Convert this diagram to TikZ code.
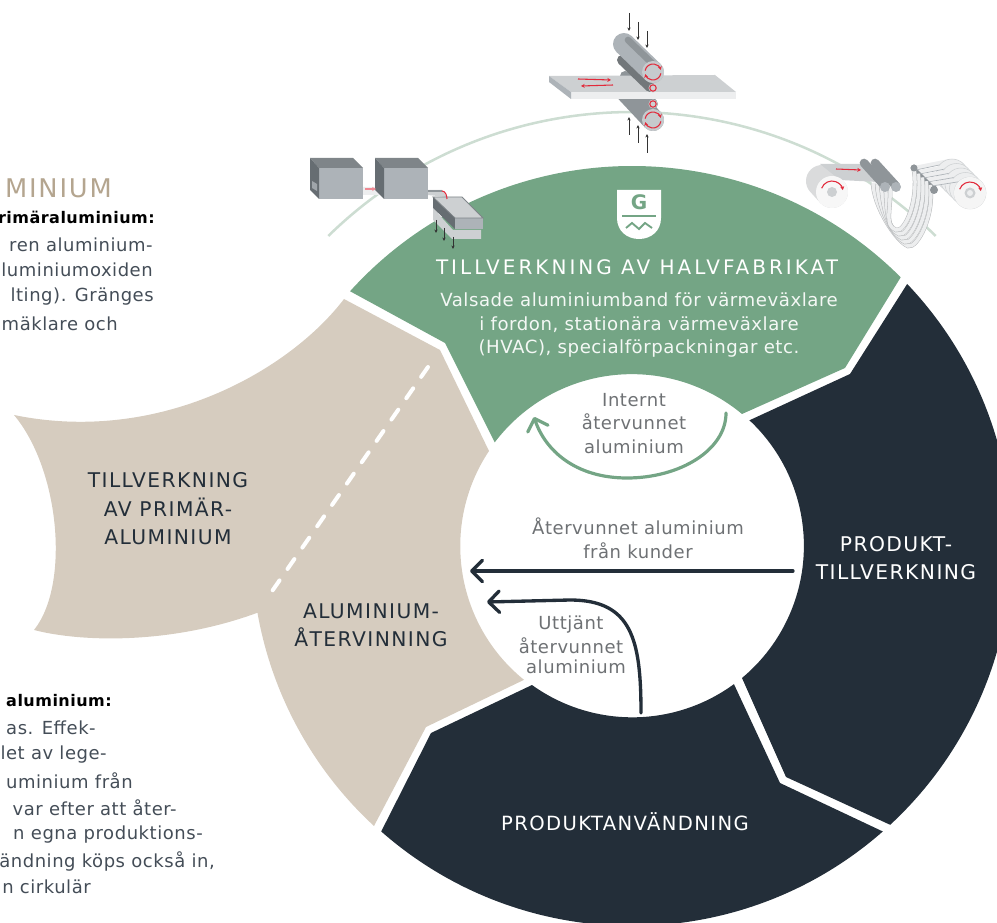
\documentclass[tikz,border=0pt]{standalone}
\usepackage{fontspec}
\setmainfont{DejaVu Sans}
\newfontfamily\bodyf[LetterSpace=3]{DejaVu Sans}
\newfontfamily\capsf[LetterSpace=7]{DejaVu Sans}
\newfontfamily\headf[LetterSpace=15]{DejaVu Sans}
\usetikzlibrary{arrows.meta}
\definecolor{gisgreen}{HTML}{74A585}
\definecolor{gisdark}{HTML}{232E39}
\definecolor{gisbeige}{HTML}{D6CCBF}
\definecolor{gispale}{HTML}{CDDDD2}
\definecolor{gistitle}{HTML}{B4A58F}
\definecolor{gisgrey}{HTML}{6E7174}
\definecolor{gisred}{HTML}{E2293A}
\definecolor{mfront}{HTML}{ADB3B8}
\definecolor{mtop}{HTML}{7F8589}
\definecolor{mleft}{HTML}{666D72}
\definecolor{mlight}{HTML}{CDD0D2}
\definecolor{mpale}{HTML}{EDEEEF}
\definecolor{mroll}{HTML}{8F9599}
\tikzset{
  lbl/.style={inner sep=0pt,align=center},
  greylbl/.style={lbl,text=gisgrey,font=\bodyf\fontsize{13.5}{17.8}\selectfont},
  caplbl/.style={lbl,font=\capsf\fontsize{15.2}{21.3}\selectfont},
  sidetxt/.style={inner sep=0pt,anchor=east,text=gisdark!85,font=\bodyf\fontsize{13.5}{17}\selectfont},
  sidebold/.style={inner sep=0pt,anchor=east,text=black,font=\bodyf\bfseries\fontsize{12}{17}\selectfont},
  flowdark/.style={draw=gisdark,line width=2.5pt,line cap=round,-{Straight Barb[length=8pt,width=16pt,round]}},
  flowgreen/.style={draw=gisgreen,line width=2.4pt,line cap=round,-{Straight Barb[length=8pt,width=16pt,round]}},
  tinyarrow/.style={draw=black!80,line width=0.6pt,-{Stealth[length=2.6pt,width=2.4pt]}},
  redarrow/.style={draw=gisred,line width=0.8pt,-{Stealth[length=2.8pt,width=3pt]}},
}
\begin{document}
\begin{tikzpicture}[x=0.75pt,y=-0.75pt]
\useasboundingbox (0,0) rectangle (997,923);
\clip (0,0) rectangle (997,923);
\def\cx{632}\def\cy{546}\def\R{380}\def\r{172}
% pale arc
\draw[gispale,line width=1.9pt] ({\cx+434*cos(225.6)},{\cy+434*sin(225.6)}) arc (225.6:314.4:434);
% beige
\fill[gisbeige] (344,299) -- (440,350) -- (489,451)
  arc (213.6:129:\r) -- (426,727) -- (374,826)
  arc (132.7:170:\R)
  .. controls (170,645) and (80,642) .. (34,630)
  .. controls (70,585) and (60,470) .. (14,415)
  .. controls (160,445) and (290,370) .. cycle;
\draw[white,line width=3pt,line cap=round,dash pattern=on 9pt off 10.5pt] (428,367) -- (268,597);
% green
\fill[gisgreen] ({\cx+\R*cos(222.1)},{\cy+\R*sin(222.1)}) arc (222.1:315:\R) -- (845,368) -- (742,414)
  arc (309.8:217.1:\r) -- (445,343) -- cycle;
% dark right
\fill[gisdark] ({\cx+\R*cos(-43.6)},{\cy+\R*sin(-43.6)}) arc (-43.6:47.2:\R) -- (786,777) -- (742,678)
  arc (50.2:-46.9:\r) -- (850,374) -- cycle;
% dark bottom
\fill[gisdark] ({\cx+\R*cos(48.7)},{\cy+\R*sin(48.7)}) arc (48.7:131.3:\R) -- (431,733) -- (532,685)
  arc (125.7:53.8:\r) -- (780,783) -- cycle;

% shield
\fill[white] (617,190) -- (661,190) -- (661,218) .. controls (661,231) and (651,239) .. (639,239)
  .. controls (627,239) and (617,231) .. (617,218) -- cycle;
\node[inner sep=0pt,text=gisgreen,font=\bfseries\fontsize{15}{15}\selectfont] (shieldG) at (639,202) {G};
\draw[gisgreen,line width=1.4pt] (622,216) -- (656,216);
\draw[gisgreen,line width=1.4pt] (626,228) -- (632,223) -- (639,229) -- (645,223) -- (652,228);

% labels in sectors
\node[lbl,text=white,font=\headf\fontsize{15}{18}\selectfont] (halv) at (637,267) {TILLVERKNING AV HALVFABRIKAT};
\node[lbl,text=white!92!gisgreen,font=\bodyf\fontsize{13.6}{17.7}\selectfont] (halvtxt) at (639,325)
  {Valsade aluminiumband för värmeväxlare\\i fordon, stationära värmeväxlare\\(HVAC), specialförpackningar etc.};
\node[caplbl,text=gisdark] (prim) at (168,509) {TILLVERKNING\\AV PRIMÄR-\\ALUMINIUM};
\node[caplbl,text=gisdark] (atv) at (371,625) {ALUMINIUM-\\ÅTERVINNING};
\node[caplbl,text=white] (prod) at (896,558) {PRODUKT-\\TILLVERKNING};
\node[caplbl,text=white,font=\capsf\fontsize{14.7}{18}\selectfont] (anv) at (625,822) {PRODUKTANVÄNDNING};

% centre labels
\node[greylbl] (internt) at (634,423.5) {Internt\\återvunnet\\aluminium};
\node[greylbl] (kunder) at (638,538.5) {Återvunnet aluminium\\från kunder};
\node[greylbl] (uttjant) at (571,625) {Uttjänt};
\node[greylbl] (uttjant2) at (571,646) {återvunnet};
\node[greylbl] (uttjant3) at (576,667) {aluminium};

% flows
\coordinate (gs) at (726,413); \coordinate (gm) at (627,478); \coordinate (ge) at (534,417);
\draw[flowgreen] (gs) .. controls (726,450) and (680,478) .. (gm) .. controls (575,478) and (545,450) .. (ge);
\coordinate (ks) at (793,571); \coordinate (ke) at (470,571);
\draw[flowdark] (ks) -- (ke);
\coordinate (us) at (641,713); \coordinate (um) at (570,600); \coordinate (ue) at (487,602);
\draw[flowdark] (us) .. controls (641,640) and (632,600) .. (um) -- (ue);

% left texts
\node[inner sep=0pt,anchor=east,text=gistitle,font=\capsf\fontsize{19.3}{22}\selectfont] (rubrik) at (112,188) {MINIUM};
\node[sidebold] (a1) at (155,217) {rimäraluminium:};
\node[sidetxt] (a2) at (153,245) {ren aluminium-};
\node[sidetxt] (a3) at (153,270) {luminiumoxiden};
\node[sidetxt] (a4) at (154,297) {lting). Gränges};
\node[sidetxt] (a5) at (118,324) {mäklare och};
\node[sidebold] (b1) at (112,701) {aluminium:};
\node[sidetxt] (b2) at (96,728) {as. Effek-};
\node[sidetxt] (b3) at (107,755) {let av lege-};
\node[sidetxt] (b4) at (133,781) {uminium från};
\node[sidetxt] (b5) at (177,808) {var efter att åter-};
\node[sidetxt] (b6) at (203,835) {n egna produktions-};
\node[sidetxt] (b7) at (215,861) {ändning köps också in,};
\node[sidetxt] (b8) at (91,887) {n cirkulär};

% ---- rolling mill (top)
\draw[mroll,line width=7.5pt,line cap=round] (625,76) -- (653,104);
\draw[mroll,line width=16.5pt,line cap=round] (625,90) -- (653,120);
\fill[mlight] (549,76) -- (715,75) -- (736,92) -- (571,92) -- cycle;
\fill[mpale] (571,92) -- (736,92) -- (736,99) -- (571,99) -- cycle;
\fill[mfront] (549,76) -- (571,92) -- (571,99) -- (549,82) -- cycle;
\draw[mroll!80!black,line width=7.5pt,line cap=round] (622,60) -- (650,87);
\draw[mfront,line width=16.5pt,line cap=round] (624,44) -- (653,72);
\draw[mroll,line width=5pt,line cap=round] (628,40) -- (657,68);
\fill[mfront!70!white] (653,72) circle (11);
\fill[mfront!70!white] (653,120) circle (11);
\fill[mlight] (653,88) circle (4.5);
\fill[mlight] (653,104) circle (4.5);
\draw[gisred,line width=0.8pt] (653,88) circle (3.2) (653,104) circle (3.2);
\draw[redarrow] (653,72) ++(190:8) arc (190:345:8);
\draw[redarrow] (653,72) ++(10:8) arc (10:165:8);
\draw[redarrow] (653,120) ++(190:8) arc (190:345:8);
\draw[redarrow] (653,120) ++(10:8) arc (10:165:8);
\draw[redarrow] (578,79) -- (611,80);
\draw[redarrow] (613,85) -- (581,86);
\foreach \x/\ya/\yb in {629/13/31,638/22/40,647/31/48,629/135/117,638/143/125,647/153/134}
  \draw[tinyarrow] (\x,\ya) -- (\x,\yb);

% ---- casting line (left)
\fill[mpale] (363,187) -- (377,187) -- (383,195) -- (363,195) -- cycle;
\foreach \dx in {0,65}{
  \fill[mfront] (319+\dx,168) rectangle (363+\dx,199);
  \fill[mtop] (310+\dx,158) -- (353+\dx,158) -- (363+\dx,168) -- (319+\dx,168) -- cycle;
  \fill[mleft] (310+\dx,158) -- (319+\dx,168) -- (319+\dx,199) -- (310+\dx,190) -- cycle;
}
\fill[mfront!80!mleft] (312,181) -- (317,184) -- (317,191) -- (312,188) -- cycle;
\draw[gisred!55!white,line width=1pt,-{Stealth[length=2.8pt,width=3pt]}] (365,189) -- (376,189);
\fill[mlight] (428,190) -- (442,190) -- (447,197) -- (428,195) -- cycle;
\fill[mroll] (428,190) rectangle (442,192);
\fill[mlight] (433,208) -- (453,230) -- (481,230) -- (481,239) -- (452,239) -- (433,220) -- cycle;
\fill[mlight] (433,197) -- (462,197) -- (483,218) -- (455,218) -- cycle;
\fill[mleft] (433,197) -- (455,218) -- (455,229) -- (433,208) -- cycle;
\fill[mfront] (455,218) rectangle (483,229);
\draw[mtop,line width=0.6pt] (433,197) -- (462,197) -- (483,218) -- (455,218) -- cycle;
\draw[gisred,line width=0.8pt] (442,191) .. controls (445,191) and (447,195) .. (447,199);
\foreach \x/\ya/\yb in {436/220/233,444/228/241,453/237/249}
  \draw[tinyarrow] (\x,\ya) -- (\x,\yb);

% ---- coil line (right)
\draw[mroll,line width=5pt,line cap=round] (914,168) -- (934,189);
\foreach \t in {1,0.75,0.5,0.25,0}{
  \pgfmathsetmacro{\sx}{890-17*\t}\pgfmathsetmacro{\sy}{188-5*\t}
  \pgfmathsetmacro{\bx}{896+12*\t}\pgfmathsetmacro{\by}{230+16*\t}
  \pgfmathsetmacro{\ex}{914+16*\t}\pgfmathsetmacro{\ey}{170+15*\t}
  \draw[mlight!90!black,line width=3.4pt] (\sx,\sy) .. controls (\sx+1,\sy+24) and (\bx-12,\by-5) .. (\bx,\by)
     .. controls (\bx+9,\by+3) and (\ex+5,\ey+30) .. (\ex,\ey);
  \draw[mpale,line width=2.6pt] (\sx,\sy) .. controls (\sx+1,\sy+24) and (\bx-12,\by-5) .. (\bx,\by)
     .. controls (\bx+9,\by+3) and (\ex+5,\ey+30) .. (\ex,\ey);
}
\foreach \t in {0,1,2,3,4}{
  \pgfmathsetmacro{\dx}{952+4.5*\t}\pgfmathsetmacro{\dy}{175+4.5*\t}
  \fill[mpale] (914+4*\t,166+4*\t) -- (\dx-3,\dy-16) -- (\dx+6,\dy-14) -- (918+4*\t,170+4*\t) -- cycle;
  \draw[mfront,line width=0.5pt] (916+4*\t,170+4*\t) -- (\dx+6,\dy-14);
  \fill[mpale] (\dx,\dy) circle (16);
  \draw[mlight,line width=0.4pt] (\dx,\dy) circle (16);
}
\fill[mroll] (914,168) circle (3.5) (934,190) circle (4);
\fill[white!96!black] (970,193) circle (16);
\fill[mlight] (970,193) circle (5.5);
\fill[mpale] (970,193) circle (3);
\draw[redarrow] (970,193) ++(200:11) arc (200:350:11);
% left coil
\draw[mpale!92!black,line width=24pt,line cap=round] (822,181) -- (832,192);
\fill[mlight] (820,164) -- (862,164) -- (878,182) -- (840,180) -- cycle;
\draw[mroll,line width=6.5pt,line cap=round] (864,163) -- (885,186);
\draw[mroll,line width=6.5pt,line cap=round] (875,163) -- (896,186);
\fill[mfront] (885,187) circle (5) (896,187) circle (5);
\fill[white!97!black] (832,192) circle (16);
\fill[mlight] (832,192) circle (5);
\draw[redarrow] (832,192) ++(200:11) arc (200:350:11);
\draw[redarrow] (836,169) -- (861,170);
\end{tikzpicture}
\end{document}
